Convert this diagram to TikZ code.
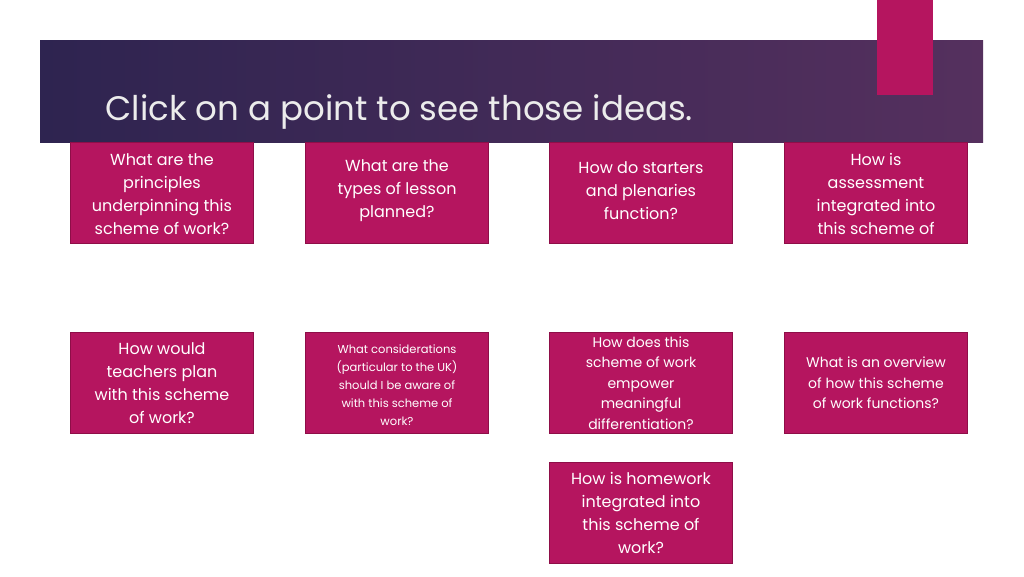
\documentclass[tikz,border=0pt]{standalone}
\usepackage{fontspec}
\setmainfont{Poppins}
\begin{document}
\begin{tikzpicture}[x=1pt,y=-1pt,
  q/.style={draw=pinkedge,fill=pinkbox,line width=1pt,minimum width=183pt,minimum height=101pt,anchor=north west,inner sep=0pt},
  qt/.style={text=white,align=center,font=\fontsize{16}{23}\selectfont},
  qs/.style={text=white,align=center,font=\fontsize{11.5}{18}\selectfont}]
\definecolor{pinkbox}{HTML}{B5155F}
\definecolor{pinkedge}{HTML}{8E0E48}
\definecolor{bandA}{HTML}{2E2450}
\definecolor{bandB}{HTML}{55305E}
\useasboundingbox (0,0) rectangle (1024,576);
\fill[white] (0,0) rectangle (1024,576);
\shade[left color=bandA,right color=bandB] (40,40) rectangle (983,142);
\fill[pinkbox] (877,0) rectangle (933,95);
\node[anchor=west,text=white!85!gray,font=\fontsize{34}{40}\selectfont] (title) at (102,112) {Click on a point to see those ideas.};
\node[q] (b1) at (70,142) {}; \node[qt] at ([yshift=-1pt]b1.center) {What are the\\principles\\underpinning this\\scheme of work?};
\node[q] (b2) at (305,142) {}; \node[qt] at ([yshift=2pt]b2.center) {What are the\\types of lesson\\planned?};
\node[q] (b3) at (549,142) {}; \node[qt] at ([yshift=2pt]b3.center) {How do starters\\and plenaries\\function?};
\node[q] (b4) at (784,142) {};
\begin{scope}
\clip (784,142) rectangle (967,243);
\node[qt] at ([yshift=-12pt]b4.center) {How is\\assessment\\integrated into\\this scheme of\\work?};
\end{scope}
\node[q] (b5) at (70,332) {}; \node[qt] at (b5.center) {How would\\teachers plan\\with this scheme\\of work?};
\node[q] (b6) at (305,332) {}; \node[qs,font=\fontsize{11.5}{18}\selectfont] at ([yshift=-2pt]b6.center) {What considerations\\(particular to the UK)\\should I be aware of\\with this scheme of\\work?};
\node[q] (b7) at (549,332) {}; \node[qt,font=\fontsize{14}{20.5}\selectfont] at (b7.center) {How does this\\scheme of work\\empower\\meaningful\\differentiation?};
\node[q] (b8) at (784,332) {}; \node[qt,font=\fontsize{14}{20.5}\selectfont] at (b8.center) {What is an overview\\of how this scheme\\of work functions?};
\node[q] (b9) at (549,462) {}; \node[qt] at (b9.center) {How is homework\\integrated into\\this scheme of\\work?};
\end{tikzpicture}
\end{document}
